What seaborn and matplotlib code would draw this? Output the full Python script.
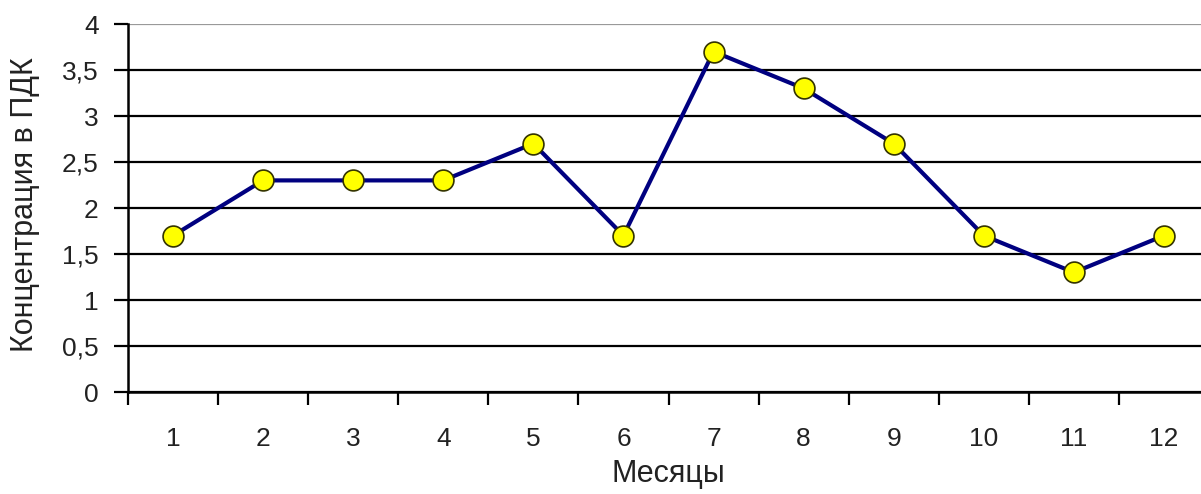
import matplotlib
matplotlib.use("Agg")
import matplotlib.pyplot as plt
import seaborn as sns
import numpy as np
from matplotlib.ticker import FixedLocator, FuncFormatter

months = [1, 2, 3, 4, 5, 6, 7, 8, 9, 10, 11, 12]
values = [1.7, 2.3, 2.3, 2.3, 2.7, 1.7, 3.7, 3.3, 2.7, 1.7, 1.3, 1.7]
y_ticks = [0, 0.5, 1, 1.5, 2, 2.5, 3, 3.5, 4]
x_label = "Месяцы"
y_label = "Концентрация в ПДК"

sns.set_style("white")
plt.rcParams['font.family'] = ['Liberation Sans', 'DejaVu Sans']

fig = plt.figure(figsize=(12.01, 4.94), dpi=100)
ax = fig.add_axes([128/1201, (494-392)/494, (1209-128)/1201, (392-24)/494])

sns.lineplot(x=months, y=values, ax=ax, color="#000080", linewidth=3,
             marker="o", markersize=15, markerfacecolor="#FFFF00",
             markeredgecolor="#333300", markeredgewidth=1.2, zorder=5)

ax.set_xlim(0.5, 12.5)
ax.set_ylim(0, 4)

ax.yaxis.set_major_locator(FixedLocator(y_ticks))
ax.yaxis.set_major_formatter(FuncFormatter(lambda v, p: ("%g" % v).replace(".", ",")))
ax.yaxis.grid(True, color="black", linewidth=1.6)
gl = ax.get_ygridlines()
gl[-1].set_color("#999999")

ax.xaxis.set_major_locator(FixedLocator([m - 0.5 for m in months] + [12.5]))
ax.xaxis.set_major_formatter(FuncFormatter(lambda v, p: ""))
ax.xaxis.set_minor_locator(FixedLocator(months))
ax.xaxis.set_minor_formatter(FuncFormatter(lambda v, p: str(int(round(v)))))
ax.tick_params(axis="x", which="major", direction="out", length=9, width=1.6, color="black", bottom=True)
ax.tick_params(axis="x", which="minor", length=0, labelsize=19, pad=25, labelcolor="#222222", bottom=True)
ax.tick_params(axis="y", which="major", direction="out", length=10, width=1.6, color="black",
               labelsize=19, pad=11, labelcolor="#222222", left=True)

for s in ["top", "right"]:
    ax.spines[s].set_visible(False)
for s in ["left", "bottom"]:
    ax.spines[s].set_color("black")
    ax.spines[s].set_linewidth(1.8)

ax.set_xlabel(x_label, fontsize=22, color="#222222", labelpad=6)
ax.set_ylabel(y_label, fontsize=22, color="#222222", va="center")
ax.yaxis.set_label_coords((25 - 128) / 1081, (392 - 205) / 368)

fig.savefig("out.png", dpi=100, facecolor="white")
